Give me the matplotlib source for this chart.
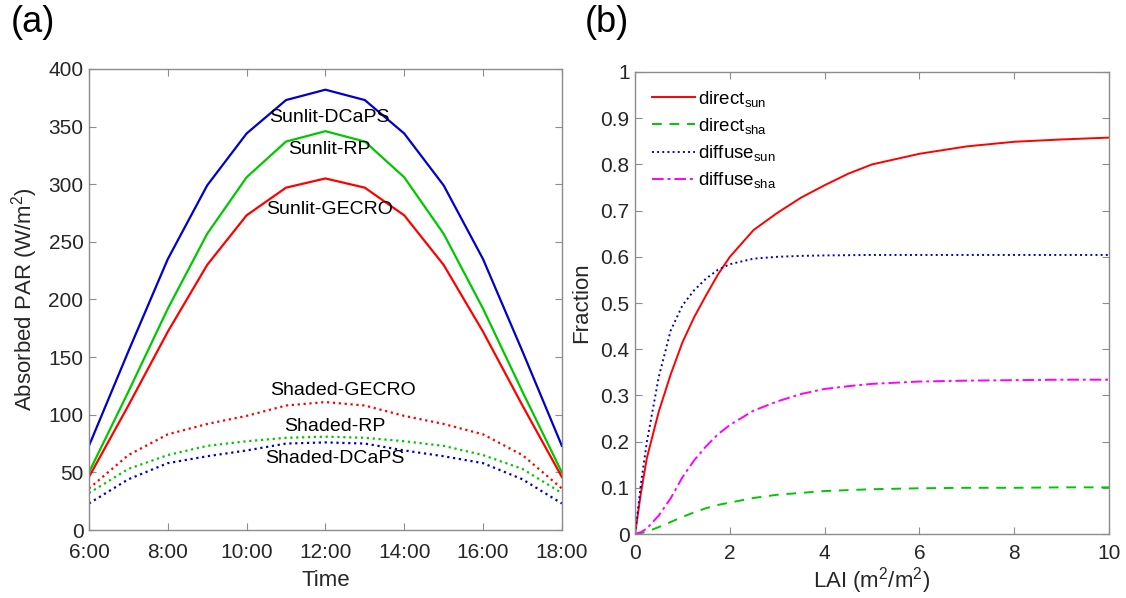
import numpy as np
import matplotlib
matplotlib.use("Agg")
import matplotlib.pyplot as plt

plt.rcParams['font.family'] = ['Liberation Sans', 'DejaVu Sans']
plt.rcParams['mathtext.fontset'] = 'custom'
plt.rcParams['mathtext.rm'] = 'Liberation Sans'
plt.rcParams['mathtext.it'] = 'Liberation Sans'

# (a) absorbed PAR over the day
hours = np.arange(6, 19)
time_labels = ['6:00', '8:00', '10:00', '12:00', '14:00', '16:00', '18:00']
sunlit_dcaps = [73, 155, 235, 299, 344, 373, 382, 373, 344, 299, 235, 155, 73]
sunlit_rp = [50, 120, 192, 257, 306, 337, 346, 337, 306, 257, 192, 120, 50]
sunlit_gecro = [46, 108, 172, 230, 273, 297, 305, 297, 273, 230, 172, 108, 46]
shaded_gecro = [36, 65, 83, 92, 99, 108, 111, 108, 99, 92, 83, 65, 36]
shaded_rp = [32, 53, 65, 73, 77, 80, 81, 80, 77, 73, 65, 53, 32]
shaded_dcaps = [23, 44, 58, 64, 69, 75, 76, 75, 69, 64, 58, 44, 23]

# (b) fractions vs LAI
lai = [0, 0.125, 0.25, 0.5, 0.75, 1, 1.25, 1.5, 1.75, 2, 2.5, 3, 3.5, 4, 4.5, 5, 6, 7, 8, 9, 10]
direct_sun = [0, 0.09, 0.165, 0.265, 0.345, 0.415, 0.47, 0.517, 0.562, 0.60, 0.658, 0.695,
              0.728, 0.755, 0.78, 0.80, 0.823, 0.839, 0.849, 0.854, 0.858]
direct_sha = [0, 0.002, 0.005, 0.015, 0.026, 0.037, 0.047, 0.056, 0.063, 0.068, 0.078, 0.085,
              0.089, 0.093, 0.095, 0.097, 0.099, 0.100, 0.100, 0.101, 0.101]
diffuse_sun = [0, 0.11, 0.20, 0.34, 0.44, 0.495, 0.528, 0.553, 0.572, 0.584, 0.596, 0.600,
               0.602, 0.603, 0.6035, 0.604, 0.604, 0.604, 0.604, 0.604, 0.604]
diffuse_sha = [0, 0.004, 0.012, 0.04, 0.077, 0.123, 0.16, 0.19, 0.216, 0.236, 0.267, 0.287,
               0.303, 0.314, 0.32, 0.325, 0.330, 0.332, 0.333, 0.334, 0.334]

RED = '#ff0000'
GREEN = '#00c800'
BLUE = '#0000d0'
MAG = '#ff00ff'
EDGE = '#8c8c8c'
TXT = '#262626'
FS = 15
FL = 16


def estilo(ax, xpad):
    for s in ax.spines.values():
        s.set_color(EDGE)
        s.set_linewidth(1.0)
    ax.tick_params(direction='in', top=True, right=True, color=EDGE,
                   labelcolor=TXT, labelsize=FS, length=5)
    ax.tick_params(axis='x', pad=xpad)
    ax.tick_params(axis='y', pad=4)


fig = plt.figure(figsize=(11.26, 5.98), dpi=100)
ax1 = fig.add_axes([0.079, 0.1137, 0.420, 0.771])
ax2 = fig.add_axes([0.564, 0.107, 0.421, 0.7726])

lw = 1.6
ax1.plot(hours, sunlit_dcaps, '-', color=BLUE, lw=lw)
ax1.plot(hours, sunlit_rp, '-', color=GREEN, lw=lw)
ax1.plot(hours, sunlit_gecro, '-', color=RED, lw=lw)
ax1.plot(hours, shaded_gecro, ':', color=RED, lw=lw)
ax1.plot(hours, shaded_rp, ':', color=GREEN, lw=lw)
ax1.plot(hours, shaded_dcaps, ':', color=BLUE, lw=lw)

tk = dict(fontsize=14, color='black', ha='center', va='center')
ax1.text(12.1, 358, 'Sunlit-DCaPS', **tk)
ax1.text(12.1, 330, 'Sunlit-RP', **tk)
ax1.text(12.1, 278, 'Sunlit-GECRO', **tk)
ax1.text(12.45, 121, 'Shaded-GECRO', **tk)
ax1.text(12.25, 90, 'Shaded-RP', **tk)
ax1.text(12.25, 62, 'Shaded-DCaPS', **tk)

ax1.set_xlim(6, 18)
ax1.set_ylim(0, 400)
ax1.set_xticks(np.arange(6, 19, 2))
ax1.set_xticklabels(time_labels)
ax1.set_yticks(np.arange(0, 401, 50))
ax1.set_xlabel('Time', fontsize=FL, color=TXT, labelpad=6)
ax1.set_ylabel('Absorbed PAR (W/m$^2$)', fontsize=FL, color=TXT, labelpad=6)
estilo(ax1, 9)

ax2.plot(lai, direct_sun, '-', color=RED, lw=1.4, label=r'direct$_{\mathrm{sun}}$')
ax2.plot(lai, direct_sha, '--', color=GREEN, lw=1.4, dashes=(5, 4), label=r'direct$_{\mathrm{sha}}$')
ax2.plot(lai, diffuse_sun, ':', color=BLUE, lw=1.4, label=r'diffuse$_{\mathrm{sun}}$')
ax2.plot(lai, diffuse_sha, '-.', color=MAG, lw=1.4, dashes=(6, 2, 1.5, 2), label=r'diffuse$_{\mathrm{sha}}$')
ax2.set_xlim(0, 10)
ax2.set_ylim(0, 1)
ax2.set_xticks(np.arange(0, 11, 2))
ax2.set_yticks(np.arange(0, 1.01, 0.1))
ax2.set_yticklabels(['0'] + ['%.1f' % v for v in np.arange(0.1, 0.95, 0.1)] + ['1'])
ax2.set_xlabel('LAI (m$^2$/m$^2$)', fontsize=FL, color=TXT, labelpad=2)
ax2.set_ylabel('Fraction', fontsize=FL, color=TXT, labelpad=6)
estilo(ax2, 7)
leg = ax2.legend(loc='upper left', frameon=False, fontsize=13.5, handlelength=2.3,
                 handletextpad=0.15, labelspacing=0.38, borderaxespad=0.5)

fig.text(0.029, 0.962, '(a)', fontsize=26, va='center', ha='center')
fig.text(0.539, 0.962, '(b)', fontsize=26, va='center', ha='center')

fig.savefig('out.png', dpi=100)
